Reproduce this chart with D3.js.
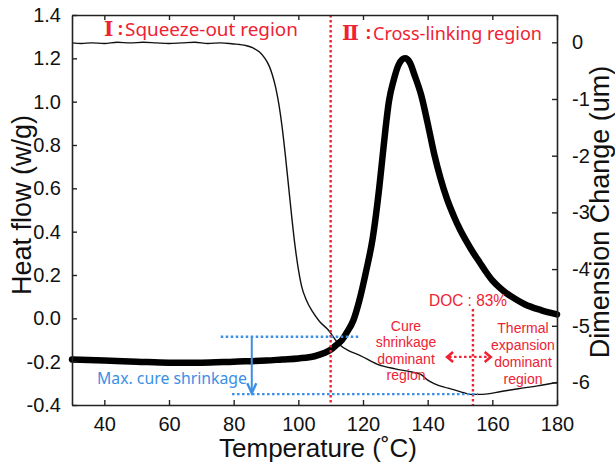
<!DOCTYPE html>
<html><head><meta charset="utf-8">
<script src="https://cdn.jsdelivr.net/npm/d3@7"></script>
<style>body{margin:0;background:#fff}svg{display:block}</style>
</head><body><svg id="c" width="615" height="466"></svg>
<script>
// ---- data ----
const tempTicks = [40, 60, 80, 100, 120, 140, 160, 180];
const heatTicks = [-0.4, -0.2, 0.0, 0.2, 0.4, 0.6, 0.8, 1.0, 1.2, 1.4];
const dimTicks = [0, -1, -2, -3, -4, -5, -6];

// Heat flow (w/g), thick curve, left axis
const heatT = [30, 40, 50, 60, 70, 80, 90, 95, 100, 105, 108, 110, 112, 113.5, 115, 117, 119, 121, 123, 125, 126, 127, 128, 129.5, 131, 133, 134.5, 136, 138, 140, 142, 144, 146, 148, 150, 152, 154, 156, 158, 160, 162, 164, 167, 170, 175, 180];
const heatV = [-0.19, -0.195, -0.2, -0.205, -0.205, -0.2, -0.195, -0.19, -0.185, -0.175, -0.16, -0.145, -0.12, -0.1, -0.065, -0.01, 0.09, 0.22, 0.37, 0.6, 0.74, 0.88, 1.0, 1.1, 1.17, 1.2, 1.18, 1.12, 1.03, 0.9, 0.76, 0.645, 0.55, 0.475, 0.41, 0.355, 0.305, 0.26, 0.215, 0.175, 0.145, 0.12, 0.09, 0.065, 0.038, 0.018];

// Dimension change (um), thin curve, right axis
const dimT = [30, 33, 36, 40, 44, 48, 52, 56, 60, 64, 68, 72, 76, 80, 82, 84, 86, 88, 89.5, 91, 92, 93, 94, 95, 96, 97, 98, 99, 100, 101, 102.5, 104.5, 106.5, 109.2, 112.5, 116, 119, 124.5, 130, 135.4, 138, 139.8, 142, 146.3, 150, 153.4, 157, 162.7, 168, 174, 180];
const dimV = [-0.01, -0.02, -0.01, -0.02, 0.0, -0.01, 0.0, -0.01, -0.02, -0.01, 0.0, -0.02, -0.01, -0.03, -0.04, -0.06, -0.1, -0.17, -0.27, -0.42, -0.58, -0.8, -1.1, -1.5, -2.0, -2.55, -3.1, -3.6, -4.0, -4.3, -4.55, -4.76, -4.92, -5.07, -5.32, -5.45, -5.52, -5.68, -5.76, -5.82, -5.86, -5.95, -6.02, -6.1, -6.16, -6.21, -6.21, -6.16, -6.11, -6.06, -6.0];

const regionNumerals = ["Ⅰ", "Ⅱ"];
const regionNames = ["Squeeze-out region", "Cross-linking region"];
const boundaryTemps = [110, 154];          // red dotted verticals
const docLabel = "DOC : 83%";
const cureLines = ["Cure", "shrinkage", "dominant", "region"];
const thermLines = ["Thermal", "expansion", "dominant", "region"];
const shrinkLabel = "Max. cure shrinkage";
const shrinkUpper = {t1: 76, t2: 119, v: -0.085};   // heat-flow units
const shrinkLower = {t1: 79.5, t2: 155.6, v: -0.35};
const shrinkArrowT = 85.6;
const docArrow = {t1: 146, t2: 159.5, v: -0.178};

// ---- layout ----
const L = 72, R = 557, T = 15, B = 405;
const RED = "#ee2233", BLUE = "#3a8fe6";

const svg = d3.select("#c");
const x = d3.scaleLinear().domain([30, 180]).range([L, R]);
const yH = d3.scaleLinear().domain([-0.4, 1.4]).range([B, T]);
const yD = d3.scaleLinear().domain([-6.397, 0.4815]).range([B, T]);

const font = "'Liberation Sans', Arial, sans-serif";
const afont = "'Noto Sans', 'Open Sans', sans-serif";

// curves
const heatData = heatT.map((t, i) => [t, heatV[i]]);
const dimData = dimT.map((t, i) => [t, dimV[i]]);

svg.append("path").datum(dimData)
  .attr("d", d3.line().x(d => x(d[0])).y(d => yD(d[1])).curve(d3.curveMonotoneX))
  .attr("fill", "none").attr("stroke", "#111").attr("stroke-width", 1.4);

svg.append("path").datum(heatData)
  .attr("d", d3.line().x(d => x(d[0])).y(d => yH(d[1])).curve(d3.curveMonotoneX))
  .attr("fill", "none").attr("stroke", "#000").attr("stroke-width", 6.5)
  .attr("stroke-linejoin", "round").attr("stroke-linecap", "round");

// red dotted boundaries
svg.append("line").attr("x1", x(boundaryTemps[0])).attr("x2", x(boundaryTemps[0]))
  .attr("y1", T).attr("y2", B)
  .attr("stroke", RED).attr("stroke-width", 2.4).attr("stroke-dasharray", "2.5,2.5");
svg.append("line").attr("x1", x(boundaryTemps[1])).attr("x2", x(boundaryTemps[1]))
  .attr("y1", 309).attr("y2", B)
  .attr("stroke", RED).attr("stroke-width", 2.4).attr("stroke-dasharray", "2.5,2.5");

// blue shrinkage markers
[shrinkUpper, shrinkLower].forEach(s => {
  svg.append("line").attr("x1", x(s.t1)).attr("x2", x(s.t2))
    .attr("y1", yH(s.v)).attr("y2", yH(s.v))
    .attr("stroke", BLUE).attr("stroke-width", 2.4).attr("stroke-dasharray", "2.5,2.5");
});
const ax = x(shrinkArrowT);
svg.append("line").attr("x1", ax).attr("x2", ax)
  .attr("y1", yH(shrinkUpper.v)).attr("y2", yH(shrinkLower.v) - 2)
  .attr("stroke", BLUE).attr("stroke-width", 2);
svg.append("path")
  .attr("d", `M${ax - 4.5},${yH(shrinkLower.v) - 11}L${ax},${yH(shrinkLower.v) - 1}L${ax + 4.5},${yH(shrinkLower.v) - 11}`)
  .attr("fill", "none").attr("stroke", BLUE).attr("stroke-width", 2.4);

svg.append("text").attr("x", 97).attr("y", 384)
  .attr("font-family", afont).attr("font-size", 16).attr("fill", BLUE)
  .attr("textLength", 150).attr("lengthAdjust", "spacingAndGlyphs")
  .text(shrinkLabel);

// DOC double arrow
const dy = yH(docArrow.v), dx1 = x(docArrow.t1), dx2 = x(docArrow.t2);
svg.append("line").attr("x1", dx1 + 2).attr("x2", dx2 - 2).attr("y1", dy).attr("y2", dy)
  .attr("stroke", RED).attr("stroke-width", 2.4).attr("stroke-dasharray", "2.5,2.5");
svg.append("path").attr("d", `M${dx1 + 6},${dy - 5}L${dx1},${dy}L${dx1 + 6},${dy + 5}`)
  .attr("fill", "none").attr("stroke", RED).attr("stroke-width", 2.6);
svg.append("path").attr("d", `M${dx2 - 6},${dy - 5}L${dx2},${dy}L${dx2 - 6},${dy + 5}`)
  .attr("fill", "none").attr("stroke", RED).attr("stroke-width", 2.6);

svg.append("text").attr("x", 429).attr("y", 306)
  .attr("font-family", font).attr("font-size", 16).attr("fill", RED)
  .attr("textLength", 78).attr("lengthAdjust", "spacingAndGlyphs")
  .text(docLabel);

const cureBase = [330.5, 347, 363.5, 380];
cureLines.forEach((s, i) => svg.append("text").attr("x", 406).attr("y", cureBase[i])
  .attr("text-anchor", "middle").attr("font-family", font).attr("font-size", 14)
  .attr("fill", RED).text(s));
const thermBase = [333, 350, 367, 384];
thermLines.forEach((s, i) => svg.append("text").attr("x", 523).attr("y", thermBase[i])
  .attr("text-anchor", "middle").attr("font-family", font).attr("font-size", 14)
  .attr("fill", RED).text(s));

// region titles
const numX = [104, 342], nameX = [125, 373], nameW = [173, 169], baseY = [36, 40];
regionNames.forEach((s, i) => {
  svg.append("text").attr("x", numX[i]).attr("y", baseY[i])
    .attr("font-family", "'DejaVu Serif', 'Liberation Serif', serif").attr("font-weight", "bold")
    .attr("font-size", 20).attr("fill", RED).text(regionNumerals[i]);
  svg.append("text").attr("x", nameX[i] - 7).attr("y", baseY[i] - 1)
    .attr("font-family", afont).attr("font-weight", "bold")
    .attr("font-size", 17).attr("fill", RED).text(":");
  svg.append("text").attr("x", nameX[i]).attr("y", baseY[i])
    .attr("font-family", afont).attr("font-size", 17.5).attr("fill", RED)
    .attr("textLength", nameW[i]).attr("lengthAdjust", "spacingAndGlyphs")
    .text(s);
});

// axes
const tickLen = 5;
const gB = svg.append("g").attr("transform", `translate(0,${B})`)
  .call(d3.axisBottom(x).tickValues(tempTicks).tickSizeInner(-tickLen).tickSizeOuter(0).tickPadding(12).tickFormat(d3.format("d")));
const gT = svg.append("g").attr("transform", `translate(0,${T})`)
  .call(d3.axisTop(x).tickValues(tempTicks).tickSizeInner(-tickLen).tickSizeOuter(0).tickFormat(""));
const gL = svg.append("g").attr("transform", `translate(${L},0)`)
  .call(d3.axisLeft(yH).tickValues(heatTicks).tickSizeInner(-tickLen).tickSizeOuter(0).tickPadding(11).tickFormat(d => d.toFixed(1)));
const gR = svg.append("g").attr("transform", `translate(${R},0)`)
  .call(d3.axisRight(yD).tickValues(dimTicks).tickSizeInner(-tickLen).tickSizeOuter(0).tickPadding(15).tickFormat(d => String(d)));

[gB, gT, gL, gR].forEach(g => {
  g.select(".domain").attr("stroke", "#222").attr("stroke-width", 1.6);
  g.selectAll(".tick line").attr("stroke", "#222").attr("stroke-width", 1.4);
  g.selectAll(".tick text").attr("font-family", font).attr("font-size", 20).attr("fill", "#111");
});
gB.selectAll(".tick text").attr("dy", "0.71em");

// axis titles
svg.append("text").attr("x", 318).attr("y", 457).attr("text-anchor", "middle")
  .attr("font-family", font).attr("font-size", 26).attr("fill", "#111")
  .attr("textLength", 198).attr("lengthAdjust", "spacingAndGlyphs")
  .text("Temperature (˚C)");
svg.append("text").attr("transform", "translate(31,205) rotate(-90)").attr("text-anchor", "middle")
  .attr("font-family", font).attr("font-size", 27).attr("fill", "#111")
  .text("Heat flow (w/g)");
svg.append("text").attr("transform", "translate(609,212) rotate(-90)").attr("text-anchor", "middle")
  .attr("font-family", font).attr("font-size", 27).attr("fill", "#111")
  .text("Dimension Change (um)");
</script></body></html>
